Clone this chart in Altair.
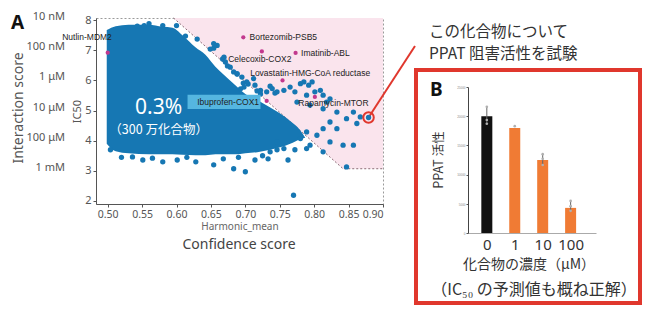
import json
import altair as alt
import pandas as pd

# ---------------- Panel A : values ----------------
# outline of the dense cloud of ~3 million compounds (top / bottom edge per x)
blob_x = [0.4986, 0.5116, 0.5304, 0.5594, 0.5797, 0.5942, 0.6087, 0.6275, 0.6420, 0.6565,
          0.6754, 0.6899, 0.7000, 0.7174, 0.7362, 0.7507, 0.7652, 0.7797, 0.7870]
blob_top = [7.67, 7.80, 7.85, 7.85, 7.78, 7.75, 7.50, 7.10, 6.85, 6.45,
            6.05, 5.75, 5.55, 5.35, 5.10, 4.90, 4.65, 4.35, 4.10]
blob_bottom = [3.90, 3.65, 3.58, 3.55, 3.55, 3.55, 3.53, 3.52, 3.52, 3.55,
               3.55, 3.55, 3.58, 3.62, 3.70, 3.78, 3.90, 4.05, 4.10]

# shaded "top 0.3 %" region
region_x = [0.5957, 0.842, 0.900]
region_top = [8.07, 8.07, 8.07]
region_bottom = [8.07, 3.07, 3.07]

# individual compounds outside the dense cloud
tail_x = [0.543, 0.553, 0.600, 0.560, 0.580,
          0.613, 0.630, 0.649, 0.654, 0.667, 0.674, 0.688, 0.697, 0.704, 0.693, 0.717, 0.722,
          0.736, 0.743,
          0.654, 0.659, 0.669, 0.671, 0.678, 0.683, 0.688, 0.695, 0.702, 0.712, 0.714, 0.698,
          0.722, 0.731, 0.739, 0.746, 0.756, 0.765, 0.772, 0.780, 0.785, 0.792, 0.797, 0.801,
          0.809, 0.813, 0.818, 0.823, 0.789, 0.775, 0.794, 0.813, 0.833, 0.847, 0.857, 0.862,
          0.867, 0.823, 0.833, 0.813, 0.804, 0.789, 0.780, 0.794, 0.823, 0.842, 0.857, 0.813,
          0.789, 0.847, 0.770, 0.756, 0.746, 0.736,
          0.504, 0.536, 0.551, 0.580, 0.601, 0.628, 0.654, 0.683, 0.700, 0.714, 0.733, 0.762,
          0.746, 0.772, 0.520, 0.565, 0.615, 0.668, 0.690, 0.725]
tail_y = [7.80, 7.82, 7.82, 7.88, 7.82,
          7.47, 7.37, 7.04, 7.07, 6.71, 6.48, 6.21, 5.91, 5.88, 5.72, 5.65, 5.55,
          5.81, 5.58,
          7.22, 7.16, 6.77, 6.61, 6.44, 6.28, 6.22, 6.11, 5.95, 6.06, 5.84, 5.78,
          5.67, 5.62, 5.73, 5.62, 5.67, 5.78, 5.62, 5.89, 5.95, 5.84, 5.95, 5.62,
          5.67, 5.51, 5.28, 5.39, 5.51, 5.28, 5.18, 5.06, 4.95, 4.73, 4.95, 4.57,
          4.79, 4.62, 4.40, 4.40, 4.18, 4.29, 4.07, 3.85, 3.96, 3.85, 3.85, 3.63,
          3.74, 3.13, 2.19, 3.74, 3.96, 3.63,
          3.70, 3.46, 3.36, 3.30, 3.36, 3.30, 3.20, 3.07, 2.97, 3.36, 3.40, 3.36,
          3.70, 3.70, 3.45, 3.42, 3.45, 3.40, 3.45, 3.50]

# known drug-target pairs
drug_names = ["Nutlin-MDM2", "Bortezomib-PSB5", "Imatinib-ABL", "Celecoxib-COX2",
              "Lovastatin-HMG-CoA reductase", "Rapamycin-MTOR", "Ibuprofen-COX1"]
drug_x = [0.500, 0.697, 0.773, 0.724, 0.754, 0.801, 0.731]
drug_y = [6.92, 7.43, 6.91, 6.96, 6.00, 5.45, 5.32]
label_x = [0.506, 0.706, 0.781, 0.675, 0.707, 0.777, 0.630]
label_y = [7.43, 7.44, 6.91, 6.71, 6.25, 5.25, 5.28]
ibu_box_x = [0.616, 0.722]
ibu_box_y = [5.52, 5.05]

# compound tested for PPAT
hit_x = [0.879]
hit_y = [4.77]

ic50_ticks = [8, 7, 6, 5, 4, 3]
conc_labels = ["10 nM", "100 nM", "1 μM", "10 μM", "100 μM", "1 mM"]
x_ticks = [0.50, 0.55, 0.60, 0.65, 0.70, 0.75, 0.80, 0.85, 0.90]
y_ticks = [2, 3, 4, 5, 6, 7, 8]

# ---------------- Panel B ----------------
conc_B = ["0", "1", "10", "100"]
activity = [20000, 18000, 12500, 4300]
bar_colors = ["#111111", "#f07b34", "#f07b34", "#f07b34"]
rep_pos = [0, 0, 0, 1, 2, 2, 2, 3, 3, 3]
rep_val = [21600, 19350, 18700, 18300, 13500, 12700, 11650, 5500, 4600, 3800]
b_ticks = [0, 5000, 10000, 15000, 20000, 25000]

BLUE = "#1677b3"
PINK = "#fae4ed"
MAGENTA = "#c2388e"
RED = "#e0372d"
GRAY = "#555555"
FONT = "Noto Sans"
JP = "Noto Sans CJK JP"

# ---------------- Panel A chart ----------------
xs = alt.Scale(domain=[0.483, 0.90], nice=False, zero=False)
ys = alt.Scale(domain=[1.9, 8.07], nice=False, zero=False)
x_axis = alt.Axis(values=x_ticks, format=".2f", labelFontSize=10.5, labelColor=GRAY, labelFont=FONT,
                  tickSize=3, tickColor=GRAY, domainColor=GRAY, grid=False, labelPadding=2,
                  title="Harmonic_mean", titleFontSize=10, titleFontWeight="normal",
                  titleColor="#666666", titleFont=FONT, titlePadding=2)
y_axis = alt.Axis(values=y_ticks, format="d", labelFontSize=11, labelColor=GRAY, labelFont=FONT,
                  tickSize=3, tickColor=GRAY, domainColor=GRAY, grid=False, labelPadding=2,
                  title="IC50", titleFontSize=11, titleFontWeight="normal",
                  titleColor=GRAY, titleFont=FONT, titlePadding=2)
X = alt.X("x:Q", scale=xs, axis=x_axis)
Y = alt.Y("y:Q", scale=ys, axis=y_axis)

df_region = pd.DataFrame({"x": region_x, "y": region_top, "y2": region_bottom})
df_border = pd.DataFrame({"x": region_x, "y": region_bottom, "i": list(range(len(region_x)))})
df_blob = pd.DataFrame({"x": blob_x, "y": blob_top, "y2": blob_bottom})
df_tail = pd.DataFrame({"x": tail_x, "y": tail_y})
df_drug = pd.DataFrame({"x": drug_x, "y": drug_y})
df_lab = pd.DataFrame({"x": label_x, "y": label_y, "t": drug_names})
df_box = pd.DataFrame({"x": [ibu_box_x[0]], "x2": [ibu_box_x[1]], "y": [ibu_box_y[0]], "y2": [ibu_box_y[1]]})
df_hit = pd.DataFrame({"x": hit_x, "y": hit_y})
df_conc = pd.DataFrame({"y": ic50_ticks, "t": conc_labels})

region = alt.Chart(df_region).mark_area(color=PINK).encode(X, Y, y2="y2:Q")
border = alt.Chart(df_border).mark_line(color="#8d6d78", strokeDash=[2, 2], strokeWidth=1).encode(X, Y, order="i:Q")
blob = alt.Chart(df_blob).mark_area(color=BLUE, interpolate="monotone").encode(X, Y, y2="y2:Q")
tail = alt.Chart(df_tail).mark_circle(color=BLUE, size=28, opacity=1).encode(X, Y)
box = alt.Chart(df_box).mark_rect(color="#55b6e0").encode(X, Y, x2="x2:Q", y2="y2:Q")
drugs = alt.Chart(df_drug).mark_circle(color=MAGENTA, size=18, opacity=1).encode(X, Y)
labels = alt.Chart(df_lab).mark_text(align="left", baseline="middle", fontSize=8.5,
                                     font="Liberation Sans", color="#222222").encode(
    X, Y, text="t:N").transform_filter(alt.datum.t != drug_names[0])
nutlin = alt.Chart(df_lab).mark_text(align="right", baseline="middle", fontSize=8.5,
                                     font="Liberation Sans", color="#222222").encode(
    X, Y, text="t:N").transform_filter(alt.datum.t == drug_names[0])
link = alt.Chart(df_hit).mark_rule(color=RED, strokeWidth=2).encode(X, Y, x2=alt.value(319), y2=alt.value(28))
hit = alt.Chart(df_hit).mark_circle(color=BLUE, size=28, opacity=1).encode(X, Y)
ring = alt.Chart(df_hit).mark_point(shape="circle", size=110, filled=False, color=RED,
                                    strokeWidth=2, opacity=1).encode(X, Y)
pct = alt.Chart(pd.DataFrame({"x": [0.574], "y": [5.09], "t": ["0.3%"]})).mark_text(
    fontSize=21, font=FONT, color="white").encode(X, Y, text="t:N")
pct2 = alt.Chart(pd.DataFrame({"x": [0.574], "y": [4.37], "t": ["（300 万化合物）"]})).mark_text(
    fontSize=12.5, font=JP, color="white").encode(X, Y, text="t:N")
conc = alt.Chart(df_conc).mark_text(align="right", baseline="middle", dy=-3, fontSize=11,
                                    font=FONT, color=GRAY).encode(x=alt.value(-31), y=Y, text="t:N")
ytitle = alt.Chart(pd.DataFrame({"t": ["Interaction score"]})).mark_text(
    angle=270, fontSize=14, font=FONT, color=GRAY, baseline="middle").encode(
    x=alt.value(-77), y=alt.value(90), text="t:N")
xtitle = alt.Chart(pd.DataFrame({"t": ["Confidence score"]})).mark_text(
    fontSize=14, font=FONT, color="#444444", baseline="middle").encode(
    x=alt.value(143), y=alt.value(227), text="t:N")
letterA = alt.Chart(pd.DataFrame({"t": ["A"]})).mark_text(
    fontSize=19, font=FONT, fontWeight="bold", color="#111111", align="left", baseline="middle").encode(
    x=alt.value(-85), y=alt.value(5), text="t:N")

panelA = alt.layer(region, border, blob, tail, box, drugs, labels, nutlin, link, hit, ring,
                   pct, pct2, conc, ytitle, xtitle, letterA).properties(
    width=287, height=186,
    view=alt.ViewBackground(stroke="#9a9a9a", strokeDash=[2, 2], strokeWidth=1))

# ---------------- Panel B chart ----------------
xsB = alt.Scale(domain=[-0.495, 3.73], nice=False, zero=False)
ysB = alt.Scale(domain=[0, 25000], range=[215, 69], nice=False)
label_expr = json.dumps(conc_B) + "[datum.value]"
xB_axis = alt.Axis(values=[0, 1, 2, 3], labelExpr=label_expr, title=None, grid=False, ticks=False,
                   domainColor="#aaaaaa", labelFontSize=15, labelColor="#333333", labelFont=FONT,
                   labelPadding=4)
yB_axis = alt.Axis(values=b_ticks, format="d", labelFontSize=3, labelColor="#888888", tickSize=2,
                   tickColor="#555555", domainColor="#444444", title=None, grid=False, labelPadding=1)
XB = alt.X("pos:Q", scale=xsB, axis=xB_axis)
YB = alt.Y("v:Q", scale=ysB, axis=yB_axis)

df_bars = pd.DataFrame({"pos": list(range(len(conc_B))), "v": activity, "c": bar_colors})
df_rep = pd.DataFrame({"pos": rep_pos, "v": rep_val})
df_err = df_rep.groupby("pos")["v"].agg(["min", "max"]).reset_index()
df_err.columns = ["pos", "v", "v2"]

bars = alt.Chart(df_bars).mark_bar(size=11).encode(XB, YB, color=alt.Color("c:N", scale=None))
err = alt.Chart(df_err).mark_rule(color="#666666", strokeWidth=1).encode(XB, YB, y2="v2:Q")
reps = alt.Chart(df_rep).mark_circle(color="#b0b0b0", size=7, opacity=1).encode(XB, YB)

def vtext(t, x, y, size, **kw):
    return alt.Chart(pd.DataFrame({"t": [t]})).mark_text(fontSize=size, baseline="middle", **kw).encode(
        x=alt.value(x), y=alt.value(y), text="t:N")

frame = alt.Chart(pd.DataFrame({"t": ["box"]})).mark_rect(
    fill="transparent", stroke=RED, strokeWidth=4).encode(
    x=alt.value(-52), x2=alt.value(172), y=alt.value(52), y2=alt.value(285))
note1 = vtext("この化合物について", -39, 14, 15.5, font=JP, color="#333333", align="left")
note2 = vtext("PPAT 阻害活性を試験", -39, 36, 15.5, font=JP, color="#333333", align="left")
letterB = vtext("B", -38, 72, 19, font=FONT, fontWeight="bold", color="#111111", align="left")
ppat = vtext("PPAT 活性", -29, 142, 12.5, font=JP, color="#333333", angle=270)
xlab = vtext("化合物の濃度（μM）", 61, 247, 14, font=JP, color="#333333")
note3 = vtext("（IC₅₀ の予測値も概ね正解）", 66, 272, 16, font=JP, color="#333333")

panelB = alt.layer(frame, bars, err, reps, note1, note2, letterB, ppat, xlab, note3).properties(
    width=128, height=215,
    view=alt.ViewBackground(stroke="transparent"))

chart = alt.hconcat(panelA, panelB, spacing=85, bounds="flush").properties(
    padding={"left": 2, "top": 2, "right": 0, "bottom": 0}
).configure_view(stroke="transparent")

chart.save("out.html", embed_options={"renderer": "svg", "actions": False})
